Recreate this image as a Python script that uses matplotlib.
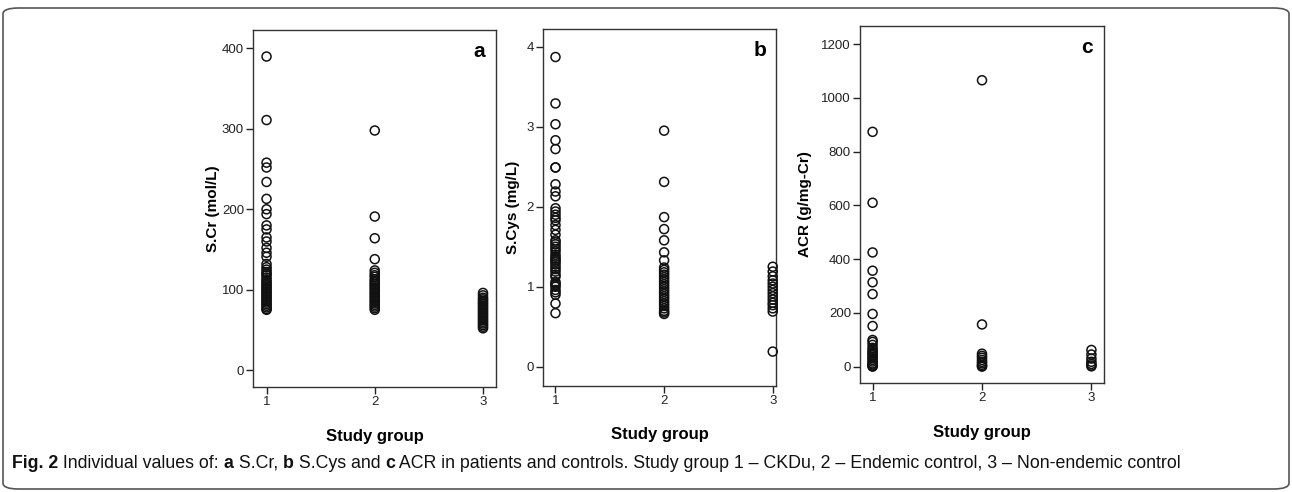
import matplotlib
matplotlib.use("Agg")
import matplotlib.pyplot as plt
from matplotlib.patches import FancyBboxPatch

# values
groups = [1, 2, 3]

scr_g1 = [390, 311, 258, 252, 234, 213, 200, 194, 180, 175, 165, 160, 152, 146, 141,
          132, 128, 125, 122, 120, 118, 115, 112, 110, 108, 106, 104, 102, 100, 98,
          96, 94, 92, 90, 88, 86, 84, 82, 80, 78, 76, 75]
scr_g2 = [298, 191, 164, 138, 124, 121, 118, 116, 113, 111, 109, 107, 105, 103, 101,
          99, 97, 95, 93, 91, 89, 87, 85, 83, 81, 79, 77, 75]
scr_g3 = [96, 93, 90, 88, 86, 84, 82, 80, 78, 76, 74, 72, 70, 68, 66, 64, 62, 60,
          58, 56, 54, 52]

scys_g1 = [3.87, 3.29, 3.03, 2.83, 2.72, 2.49, 2.49, 2.28, 2.19, 2.13, 1.98, 1.94, 1.90,
           1.86, 1.83, 1.77, 1.71, 1.65, 1.58, 1.56, 1.53, 1.50, 1.47, 1.44, 1.40, 1.375,
           1.35, 1.33, 1.31, 1.28, 1.25, 1.22, 1.19, 1.15, 1.125, 1.06, 1.04, 1.02, 1.0,
           0.96, 0.93, 0.90, 0.79, 0.67]
scys_g2 = [2.95, 2.31, 1.87, 1.72, 1.58, 1.43, 1.33, 1.24, 1.21, 1.18, 1.15, 1.12, 1.09,
           1.06, 1.03, 1.0, 0.97, 0.94, 0.91, 0.88, 0.85, 0.82, 0.79, 0.76, 0.73, 0.70,
           0.68, 0.66]
scys_g3 = [1.25, 1.19, 1.13, 1.08, 1.04, 1.0, 0.96, 0.92, 0.88, 0.84, 0.80, 0.77, 0.73,
           0.69, 0.19]

acr_g1 = [874, 610, 425, 357, 314, 270, 196, 151, 99, 92, 81, 70, 62, 55, 50, 44, 37,
          31, 25, 19, 12, 8, 4, 2, 0]
acr_g2 = [1066, 157, 48, 40, 33, 25, 18, 12, 6, 2, 0]
acr_g3 = [62, 45, 30, 18, 10, 4, 1]

ylabels = ["S.Cr (mol/L)", "S.Cys (mg/L)", "ACR (g/mg-Cr)"]
panel_tags = ["a", "b", "c"]
xlabel = "Study group"

W, H = 1292, 492
fig = plt.figure(figsize=(W / 100, H / 100), dpi=100)

# axes boxes in pixels: left, top, right, bottom
boxes = [(253, 30, 496, 387), (543, 29, 776, 386), (860, 26, 1104, 383)]
ylims = [(-21, 423), (-0.24, 4.22), (-61, 1268)]
xlims = [(0.875, 3.12), (0.885, 3.03), (0.885, 3.115)]
yticks = [[0, 100, 200, 300, 400], [0, 1, 2, 3, 4], [0, 200, 400, 600, 800, 1000, 1200]]
data = [(scr_g1, scr_g2, scr_g3), (scys_g1, scys_g2, scys_g3), (acr_g1, acr_g2, acr_g3)]
label_x = [213, 513, 805]
xlabel_y = [436, 435, 432]

sans = ["Liberation Sans", "DejaVu Sans"]

for i in range(3):
    l, t, r, b = boxes[i]
    ax = fig.add_axes([l / W, 1 - b / H, (r - l) / W, (b - t) / H])
    for g, vals in zip(groups, data[i]):
        ax.scatter([g] * len(vals), vals, s=42, facecolors="none",
                   edgecolors="#111111", linewidths=1.1, zorder=3, clip_on=False)
    ax.set_xlim(*xlims[i])
    ax.set_ylim(*ylims[i])
    ax.set_xticks(groups)
    ax.set_yticks(yticks[i])
    ax.tick_params(direction="out", length=5, width=1, labelsize=9.5,
                   color="#222222", labelcolor="#222222", pad=1.5)
    for lab in ax.get_xticklabels() + ax.get_yticklabels():
        lab.set_family(sans)
    for sp in ax.spines.values():
        sp.set_color("#333333")
        sp.set_linewidth(1)
    ax.text(0.93, 0.965, panel_tags[i], transform=ax.transAxes, ha="center", va="top",
            fontsize=15, fontweight="bold", family=sans)
    fig.text(label_x[i] / W, 1 - ((t + b) / 2) / H, ylabels[i], rotation=90,
             ha="center", va="center", fontsize=11, fontweight="bold", family=sans)
    fig.text(((l + r) / 2) / W, 1 - xlabel_y[i] / H, xlabel, ha="center", va="center",
             fontsize=12, fontweight="bold", family=sans)

# outer rounded frame
frame = FancyBboxPatch((3 / W, 3 / H), (W - 6) / W, (H - 11) / H,
                       boxstyle="round,pad=0,rounding_size=0.012",
                       transform=fig.transFigure, fill=False,
                       edgecolor="#555555", linewidth=1.2)
fig.patches.append(frame)

# caption with bold pieces
caption = [("Fig. 2", "bold"), (" Individual values of: ", "normal"), ("a", "bold"),
           (" S.Cr, ", "normal"), ("b", "bold"), (" S.Cys and ", "normal"), ("c", "bold"),
           (" ACR in patients and controls. Study group 1 \u2013 CKDu, 2 \u2013 Endemic control, "
            "3 \u2013 Non-endemic control", "normal")]
renderer = fig.canvas.get_renderer()
x = 12 / W
y = 1 - 463 / H
for txt, wt in caption:
    tt = fig.text(x, y, txt, ha="left", va="center", fontsize=12.8, fontweight=wt,
                  family=sans, color="#111111")
    ext = tt.get_window_extent(renderer=renderer)
    x = ext.x1 / W

fig.savefig("out.png", dpi=100)
